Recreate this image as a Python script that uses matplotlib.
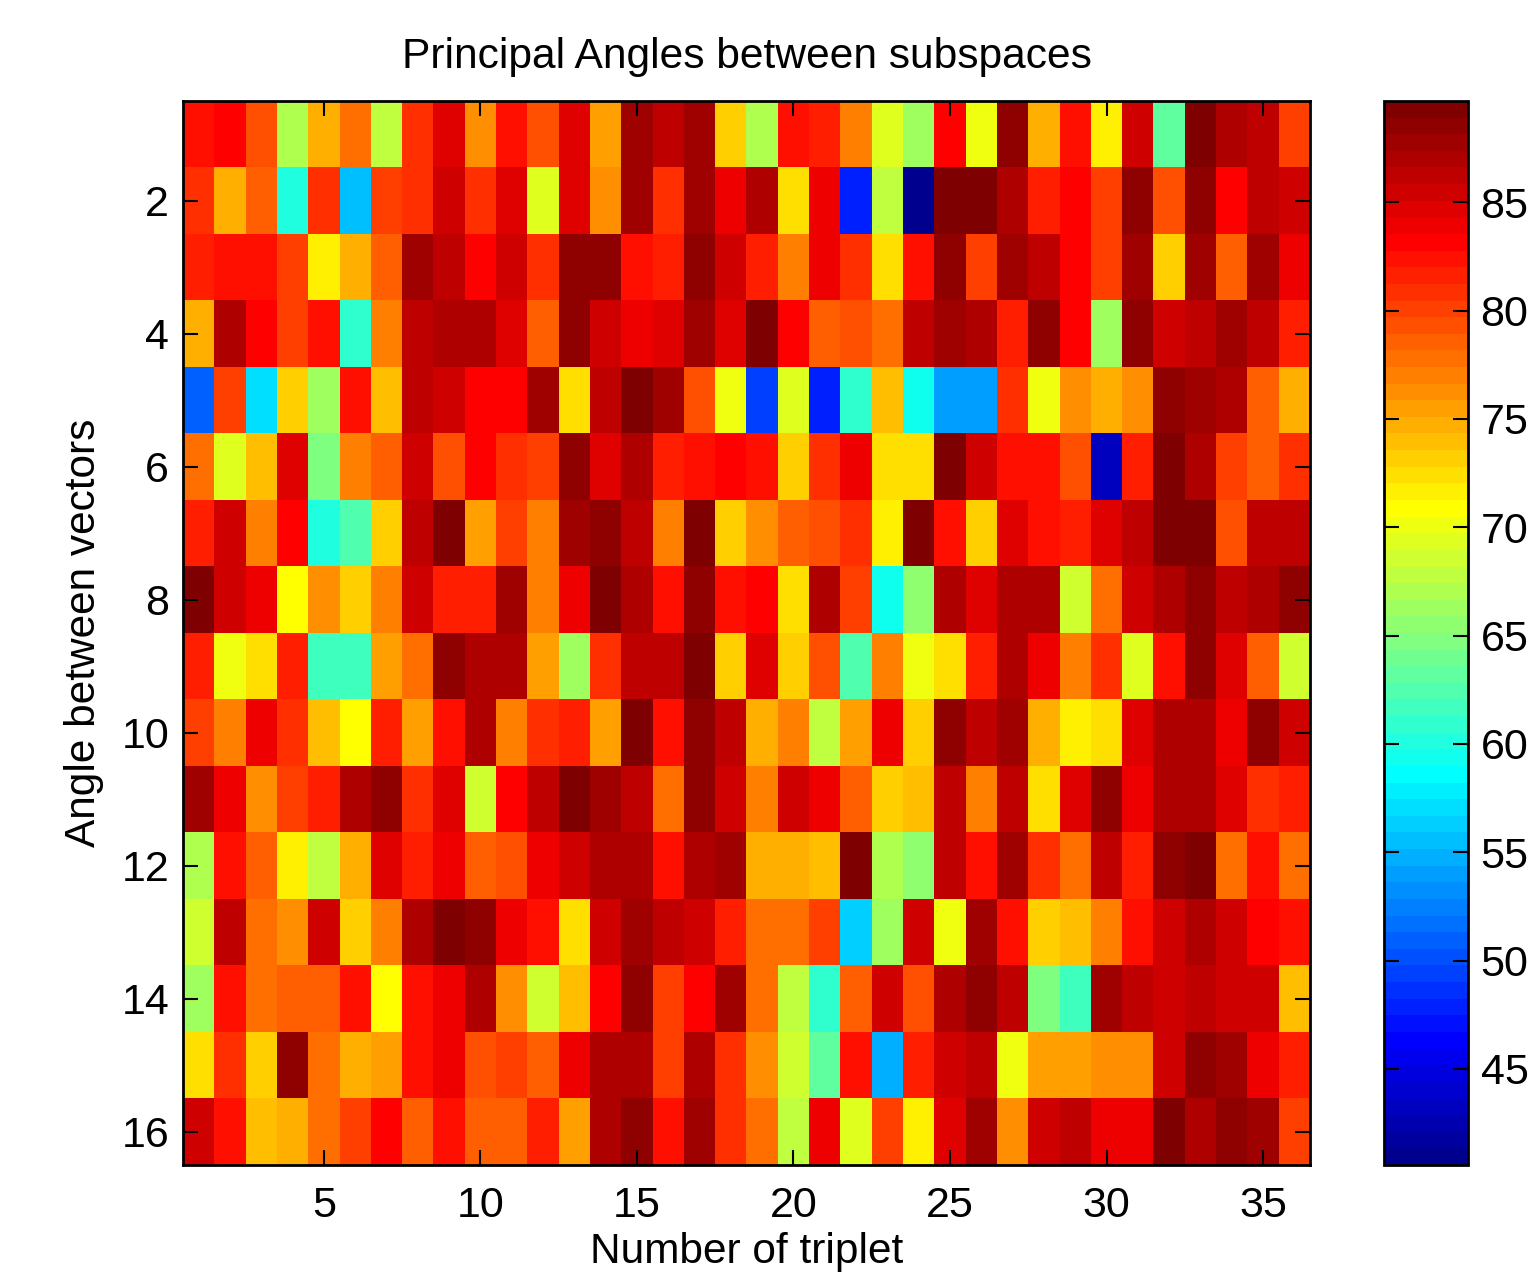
import numpy as np
import matplotlib
matplotlib.use('Agg')
import matplotlib.pyplot as plt
from matplotlib.colors import ListedColormap

# Values (rows = angle, columns = triplet)
row1 = [82.5, 83.3, 79.4, 67.0, 74.8, 77.9, 67.8, 81.0, 84.8, 76.3, 82.5, 79.4, 84.8, 75.6, 87.9, 86.4, 87.9, 73.2, 67.0, 82.5, 81.7, 77.1, 69.4, 66.3, 83.0, 70.1, 88.7, 74.8, 82.5, 71.7, 85.6, 63.2, 89.5, 87.2, 86.4, 80.2]
row2 = [81.0, 74.8, 78.6, 60.1, 81.0, 55.4, 80.2, 81.0, 85.6, 81.0, 84.8, 69.4, 84.8, 76.3, 87.9, 81.0, 87.9, 84.1, 87.2, 72.5, 84.1, 47.9, 67.8, 41.0, 89.5, 89.5, 87.2, 81.7, 83.3, 80.2, 88.7, 79.4, 88.7, 83.3, 86.4, 85.6]
row3 = [81.7, 82.5, 82.5, 80.2, 71.7, 74.8, 78.6, 87.9, 86.4, 83.3, 85.6, 81.0, 88.7, 88.7, 82.5, 81.7, 88.7, 85.6, 81.7, 77.1, 84.1, 81.0, 72.5, 82.5, 88.7, 80.2, 87.9, 86.4, 83.3, 80.2, 87.9, 73.2, 87.9, 78.6, 87.9, 84.1]
row4 = [74.8, 87.2, 83.3, 80.2, 82.5, 60.8, 77.1, 86.4, 87.2, 86.8, 84.8, 78.6, 88.7, 85.6, 84.1, 84.8, 87.9, 84.8, 89.5, 83.3, 78.6, 79.4, 77.9, 86.4, 87.9, 87.2, 81.7, 88.7, 83.3, 66.3, 88.7, 85.6, 86.4, 87.9, 86.4, 81.7]
row5 = [51.3, 80.2, 57.0, 73.2, 66.3, 82.5, 74.0, 86.4, 85.6, 83.3, 83.3, 87.9, 72.5, 86.4, 89.5, 87.9, 79.4, 70.1, 49.4, 69.4, 47.9, 60.8, 73.6, 59.3, 53.9, 53.9, 81.0, 70.1, 76.3, 74.8, 76.3, 88.7, 87.9, 87.2, 78.6, 74.8]
row6 = [77.9, 69.4, 74.0, 84.8, 64.7, 77.1, 78.6, 85.6, 79.4, 83.3, 81.0, 80.2, 88.7, 84.8, 87.2, 81.7, 82.5, 83.3, 82.5, 73.2, 81.0, 84.1, 72.5, 72.5, 89.5, 85.6, 82.5, 82.5, 79.4, 43.3, 81.7, 89.5, 87.2, 80.2, 78.6, 81.0]
row7 = [81.7, 85.6, 77.1, 83.3, 60.1, 62.4, 73.2, 86.4, 89.5, 75.6, 80.2, 77.1, 87.9, 88.7, 86.4, 77.1, 89.5, 73.2, 76.3, 78.6, 79.4, 81.0, 71.7, 89.5, 82.5, 73.2, 84.8, 82.5, 81.7, 84.8, 86.4, 89.5, 89.5, 79.4, 86.4, 86.4]
row8 = [89.5, 85.6, 84.1, 70.9, 76.3, 73.2, 77.1, 85.6, 81.7, 81.7, 87.9, 77.1, 84.1, 89.5, 87.2, 82.5, 88.7, 82.5, 83.3, 72.5, 87.2, 80.2, 59.3, 65.5, 87.2, 84.8, 87.2, 87.2, 68.6, 77.9, 85.6, 87.2, 88.7, 86.4, 87.2, 88.7]
row9 = [81.7, 70.1, 72.5, 81.7, 61.6, 61.6, 75.6, 77.9, 88.7, 87.2, 87.2, 75.6, 66.3, 81.0, 86.4, 86.4, 89.5, 73.2, 84.8, 73.2, 79.4, 62.4, 77.1, 70.1, 72.5, 81.7, 87.2, 84.1, 77.1, 81.0, 69.4, 82.5, 88.7, 84.8, 78.6, 68.6]
row10 = [80.2, 77.1, 84.1, 80.5, 74.0, 70.9, 81.7, 75.6, 82.5, 87.2, 77.1, 81.0, 81.7, 75.6, 89.5, 82.5, 88.7, 86.4, 74.8, 77.1, 67.8, 75.6, 84.1, 73.2, 88.7, 86.4, 87.9, 74.8, 71.7, 72.5, 84.8, 87.2, 87.2, 84.1, 88.7, 85.6]
row11 = [87.9, 84.1, 76.3, 80.2, 81.7, 87.2, 88.7, 81.0, 84.8, 68.6, 83.3, 86.4, 89.5, 87.9, 86.4, 77.9, 88.7, 85.6, 77.1, 85.6, 84.1, 78.6, 73.2, 74.0, 86.4, 77.1, 86.4, 72.5, 84.8, 88.7, 84.1, 87.2, 87.2, 84.8, 81.0, 81.7]
row12 = [67.0, 82.5, 78.6, 71.7, 67.8, 74.8, 84.8, 81.7, 84.1, 78.6, 79.4, 84.1, 85.6, 87.2, 87.2, 82.5, 87.2, 87.9, 74.8, 74.8, 74.0, 89.5, 67.0, 65.5, 86.4, 82.5, 87.9, 80.5, 77.9, 86.4, 81.7, 88.7, 89.5, 77.9, 82.5, 77.9]
row13 = [68.6, 86.4, 77.9, 76.3, 85.6, 72.8, 77.1, 87.2, 89.5, 88.7, 84.1, 82.5, 72.5, 85.6, 87.9, 86.4, 85.6, 81.7, 77.9, 77.9, 80.2, 56.2, 66.3, 85.6, 70.1, 87.9, 82.5, 72.8, 73.6, 77.1, 82.5, 85.6, 87.2, 85.6, 83.3, 82.5]
row14 = [66.3, 82.5, 77.9, 78.6, 78.6, 82.5, 70.9, 82.5, 84.1, 87.2, 76.0, 68.6, 74.0, 83.3, 88.7, 80.2, 83.3, 87.9, 77.9, 67.8, 60.8, 78.6, 85.6, 79.4, 87.2, 88.7, 86.4, 64.7, 61.6, 87.9, 86.4, 85.6, 86.4, 85.6, 85.6, 74.0]
row15 = [72.5, 81.0, 73.2, 88.7, 77.9, 74.8, 75.6, 82.5, 84.1, 79.4, 80.2, 78.6, 84.1, 87.2, 87.2, 80.2, 87.2, 81.0, 76.3, 68.6, 63.2, 82.5, 54.6, 81.7, 85.6, 86.4, 70.1, 75.6, 75.6, 76.3, 76.3, 85.6, 88.7, 87.9, 84.1, 81.7]
row16 = [85.6, 82.5, 74.0, 74.8, 77.9, 80.2, 83.3, 78.6, 82.5, 78.6, 78.6, 81.7, 75.6, 87.2, 88.7, 82.5, 87.9, 81.0, 77.9, 67.8, 84.1, 69.4, 80.2, 71.7, 84.8, 87.9, 76.3, 85.6, 86.4, 84.1, 84.1, 89.5, 87.2, 88.7, 87.9, 80.2]

angles = np.array([row1, row2, row3, row4, row5, row6, row7, row8,
                   row9, row10, row11, row12, row13, row14, row15, row16])

x_ticks = [5, 10, 15, 20, 25, 30, 35]
y_ticks = [2, 4, 6, 8, 10, 12, 14, 16]
cbar_ticks = [45, 50, 55, 60, 65, 70, 75, 80, 85]

VMIN, VMAX = 40.56, 89.68


def old_jet(n=64):
    # the 64 level jet that MATLAB used
    q = n // 4
    ramp = np.arange(1, q + 1) / q
    up_down = np.concatenate([ramp, np.ones(q - 1), ramp[::-1]])
    g_start = q // 2
    r = np.zeros(n)
    g = np.zeros(n)
    b = np.zeros(n)
    g_idx = np.arange(len(up_down)) + g_start
    r_idx = g_idx + q
    b_idx = g_idx - q
    g[g_idx[g_idx < n]] = up_down[g_idx < n]
    r[r_idx[r_idx < n]] = up_down[r_idx < n]
    b[b_idx[b_idx >= 0]] = up_down[b_idx >= 0]
    return ListedColormap(np.column_stack([r, g, b]))


plt.rcParams['font.family'] = ['Liberation Sans', 'DejaVu Sans']

W, H = 1537, 1272
fig = plt.figure(figsize=(W / 100, H / 100), dpi=100)
ax = fig.add_axes([183 / W, 1 - 1165 / H, (1310 - 183) / W, (1165 - 101) / H])
cax = fig.add_axes([1384 / W, 1 - 1165 / H, (1468 - 1384) / W, (1165 - 101) / H])

im = ax.imshow(angles, cmap=old_jet(), vmin=VMIN, vmax=VMAX, aspect='auto',
               interpolation='nearest',
               extent=[0.5, 36.5, 16.5, 0.5])
ax.set_xticks(x_ticks)
ax.set_yticks(y_ticks)
ax.tick_params(direction='in', length=11, width=1.5, labelsize=31, top=True, right=True)
ax.tick_params(axis='x', pad=15)
ax.tick_params(axis='y', pad=10)
ax.set_title('Principal Angles between subspaces', fontsize=30.6, pad=24)
ax.set_xlabel('Number of triplet', fontsize=30.5, labelpad=4.5)
ax.set_ylabel('Angle between vectors', fontsize=30.5, labelpad=12.5)
for s in ax.spines.values():
    s.set_linewidth(2)

cb = fig.colorbar(im, cax=cax)
cb.set_ticks(cbar_ticks)
cb.ax.tick_params(direction='in', length=11, width=1.5, labelsize=31, left=True, right=True, pad=9)
cb.outline.set_linewidth(2)

fig.savefig('out.png', dpi=100)
print('Saved to out.png')
